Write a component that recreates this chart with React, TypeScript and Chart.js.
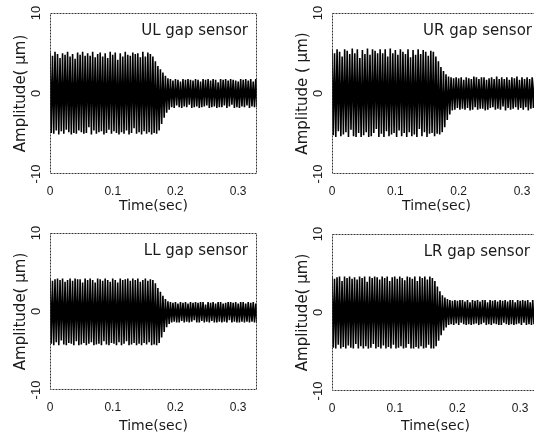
import React, { useEffect, useRef } from "react";
import { Chart, registerables } from "chart.js";

Chart.register(...registerables);

// ---------- data ----------
const TIME_STEP = 0.002; // sampling interval (s)
const X_MIN = 0;
const X_MAX = 0.33;
const Y_MIN = -10;
const Y_MAX = 10;
const X_TICKS = [0, 0.1, 0.2, 0.3];
const Y_TICKS = [-10, 0, 10];
const X_TITLE = "Time(sec)";

const PANEL_LABELS = ["UL gap sensor", "UR gap sensor", "LL gap sensor", "LR gap sensor"];
const Y_TITLES = ["Amplitude( μm)", "Amplitude ( μm)", "Amplitude( μm)", "Amplitude( μm)"];

const UL = [
  5.1, -4.9, 4.7, -5.0, 5.2, -4.6, 4.9, -5.1, 4.4, -4.7,
  5.0, -5.0, 4.8, -4.5, 5.2, -4.8, 4.6, -5.1, 4.9, -4.9,
  4.3, -5.0, 5.1, -4.6, 4.8, -4.8, 5.2, -5.0, 4.7, -4.9,
  5.0, -4.2, 4.7, -5.1, 5.2, -4.6, 4.5, -5.0, 4.9, -4.8,
  5.1, -4.7, 4.6, -5.1, 5.0, -4.9, 4.4, -4.5, 5.2, -5.0,
  4.8, -4.7, 5.1, -4.9, 4.2, -5.1, 5.0, -4.8, 4.6, -5.0,
  5.2, -4.6, 4.8, -5.1, 4.7, -4.9, 5.1, -4.3, 4.9, -5.0,
  5.0, -4.8, 4.5, -5.1, 5.2, -4.7, 4.6, -5.0, 5.1, -4.8,
  4.9, -5.1, 4.6, -4.9, 4.0, -5.0, 3.4, -4.6, 3.0, -3.8,
  2.6, -3.0, 2.2, -2.4, 1.9, -2.0, 1.8, -1.7, 1.6, -1.8,
  1.8, -1.5, 1.7, -1.7, 1.5, -1.8, 1.8, -1.6, 1.7, -1.7,
  1.8, -1.4, 1.7, -1.8, 1.6, -1.7, 1.8, -1.6, 1.7, -1.8,
  1.5, -1.7, 1.8, -1.6, 1.7, -1.5, 1.8, -1.8, 1.6, -1.7,
  1.8, -1.6, 1.7, -1.8, 1.4, -1.7, 1.8, -1.7, 1.7, -1.5,
  1.8, -1.8, 1.6, -1.6, 1.8, -1.4, 1.7, -1.8, 1.6, -1.7,
  1.5, -1.8, 1.8, -1.6, 1.7, -1.7, 1.8, -1.5, 1.6, -1.8,
  1.8, -1.6, 1.5, -1.7, 1.8, -1.7,
];

const UR = [
  5.4, -5.2, 5.0, -5.4, 5.5, -4.7, 5.2, -5.3, 4.6, -5.1,
  5.5, -4.8, 5.3, -5.4, 4.9, -4.5, 5.6, -5.3, 5.0, -5.4,
  5.5, -4.9, 4.4, -5.4, 5.4, -5.2, 4.9, -4.8, 5.6, -5.4,
  4.8, -5.3, 5.5, -4.9, 5.3, -4.4, 5.0, -5.4, 5.5, -5.0,
  5.0, -5.4, 5.5, -4.7, 4.6, -5.3, 5.6, -5.1, 5.0, -4.9,
  5.4, -5.4, 4.8, -4.6, 5.5, -5.3, 5.2, -4.9, 4.9, -5.4,
  5.5, -4.8, 4.5, -5.3, 5.4, -5.1, 4.8, -5.4, 5.5, -4.4,
  4.9, -5.3, 5.4, -4.8, 5.2, -5.4, 4.7, -5.0, 5.3, -4.9,
  5.2, -5.3, 4.6, -5.0, 4.0, -5.1, 3.3, -4.8, 2.8, -4.2,
  2.4, -3.3, 2.1, -2.6, 2.0, -2.1, 1.9, -2.0, 2.0, -1.8,
  1.9, -2.0, 2.0, -1.9, 1.7, -2.0, 2.0, -1.8, 1.9, -2.1,
  1.8, -2.0, 2.1, -1.7, 2.0, -2.0, 1.8, -1.9, 2.0, -1.9,
  2.0, -2.1, 1.7, -2.0, 1.9, -1.8, 2.0, -1.7, 1.8, -2.0,
  2.1, -1.9, 1.8, -2.0, 2.0, -1.6, 1.8, -2.1, 2.0, -1.8,
  1.7, -2.0, 2.0, -1.9, 1.9, -1.7, 2.1, -2.0, 1.7, -1.8,
  2.0, -2.0, 1.8, -1.7, 2.0, -2.1, 1.8, -1.9, 2.0, -1.8,
  1.9, -2.0, 1.7, -1.9, 2.0, -1.8,
];

const LL = [
  4.2, -4.1, 3.9, -4.3, 4.1, -3.9, 4.2, -4.3, 4.0, -3.7,
  4.2, -4.2, 3.8, -4.3, 4.0, -4.0, 4.2, -4.1, 3.9, -4.3,
  4.2, -3.8, 4.1, -4.3, 4.1, -4.2, 3.7, -4.0, 4.2, -4.3,
  4.0, -4.1, 4.2, -3.9, 4.0, -4.3, 3.7, -4.2, 4.2, -4.1,
  4.1, -4.3, 3.9, -3.8, 4.2, -4.2, 4.0, -4.3, 3.8, -4.0,
  4.2, -4.1, 4.0, -4.3, 3.7, -3.9, 4.2, -4.3, 4.0, -4.1,
  4.1, -3.8, 4.2, -4.3, 3.9, -4.2, 4.2, -4.0, 4.0, -4.3,
  4.2, -4.1, 3.8, -4.3, 4.0, -4.0, 4.2, -4.2, 3.9, -3.9,
  4.1, -4.3, 4.0, -4.2, 3.6, -4.3, 3.0, -4.0, 2.5, -3.3,
  2.0, -2.6, 1.6, -2.0, 1.3, -1.6, 1.2, -1.4, 1.1, -1.3,
  1.2, -1.4, 1.0, -1.4, 1.2, -1.2, 1.1, -1.4, 1.2, -1.3,
  1.0, -1.4, 1.2, -1.3, 1.1, -1.1, 1.2, -1.4, 1.1, -1.4,
  1.2, -1.2, 1.2, -1.4, 0.9, -1.3, 1.2, -1.4, 1.1, -1.2,
  1.2, -1.4, 1.0, -1.4, 1.2, -1.3, 1.2, -1.4, 1.0, -1.3,
  1.1, -1.4, 1.2, -1.1, 1.2, -1.4, 1.1, -1.3, 1.2, -1.4,
  1.0, -1.4, 1.2, -1.3, 1.2, -1.4, 1.0, -1.3, 1.2, -1.4,
  1.1, -1.3, 1.2, -1.4, 1.0, -1.4,
];

const LR = [
  4.6, -4.5, 4.3, -4.6, 4.5, -4.1, 4.6, -4.6, 4.0, -4.4,
  4.6, -4.6, 4.4, -4.2, 4.6, -4.5, 4.3, -4.6, 4.5, -4.0,
  4.2, -4.6, 4.6, -4.3, 4.4, -4.6, 4.6, -4.3, 3.9, -4.6,
  4.6, -4.5, 4.4, -4.0, 4.6, -4.6, 4.5, -4.4, 4.2, -4.6,
  4.6, -4.2, 4.4, -4.6, 4.6, -4.4, 4.0, -4.6, 4.5, -4.1,
  4.6, -4.6, 4.3, -4.5, 4.6, -4.3, 4.4, -4.6, 4.1, -4.5,
  4.6, -4.0, 4.5, -4.6, 4.3, -4.6, 4.6, -4.4, 4.0, -4.6,
  4.6, -4.3, 4.4, -4.6, 4.6, -4.5, 4.2, -4.1, 4.6, -4.6,
  4.4, -4.6, 4.0, -4.3, 3.3, -3.6, 2.7, -2.9, 2.2, -2.3,
  1.9, -1.9, 1.7, -1.6, 1.6, -1.5, 1.5, -1.6, 1.6, -1.4,
  1.5, -1.6, 1.6, -1.3, 1.6, -1.5, 1.4, -1.6, 1.6, -1.5,
  1.3, -1.6, 1.6, -1.5, 1.5, -1.4, 1.6, -1.6, 1.4, -1.5,
  1.6, -1.3, 1.6, -1.6, 1.3, -1.5, 1.6, -1.6, 1.5, -1.4,
  1.6, -1.5, 1.4, -1.6, 1.6, -1.6, 1.5, -1.3, 1.6, -1.5,
  1.4, -1.6, 1.6, -1.5, 1.6, -1.6, 1.3, -1.5, 1.6, -1.4,
  1.5, -1.6, 1.6, -1.3, 1.5, -1.6, 1.6, -1.5, 1.3, -1.6,
  1.6, -1.5, 1.6, -1.6, 1.4, -1.5,
];

const SERIES = [UL, UR, LL, LR];

// ---------- layout ----------
const PANELS = [
  { left: 0, top: 0, w: 262, h: 215, padTop: 13, padRight: 5, xH: 41 },
  { left: 282, top: 0, w: 262, h: 215, padTop: 13, padRight: 3, xH: 41 },
  { left: 0, top: 215, w: 262, h: 220, padTop: 18, padRight: 5, xH: 45 },
  { left: 282, top: 215, w: 262, h: 220, padTop: 19, padRight: 5, xH: 44 },
];

const FONT = "'DejaVu Sans', 'Liberation Sans', sans-serif";
const TICK_FONT = "'Liberation Sans', Arial, sans-serif";
const TEXT_COLOR = "#1a1a1a";

const framePlugin = {
  id: "frame",
  afterDraw(chart: any) {
    const { ctx, chartArea } = chart;
    ctx.save();
    ctx.strokeStyle = "#333";
    ctx.lineWidth = 1;
    ctx.setLineDash([2, 1]);
    ctx.strokeRect(
      Math.round(chartArea.left) + 0.5,
      Math.round(chartArea.top) + 0.5,
      Math.round(chartArea.right - chartArea.left) - 1,
      Math.round(chartArea.bottom - chartArea.top) - 1
    );
    ctx.restore();
  },
};

const labelPlugin = {
  id: "panelLabel",
  afterDraw(chart: any, _args: any, opts: any) {
    const { ctx, chartArea } = chart;
    ctx.save();
    ctx.fillStyle = TEXT_COLOR;
    ctx.font = `15px ${FONT}`;
    ctx.textAlign = "right";
    ctx.textBaseline = "middle";
    ctx.fillText(opts.text, chartArea.right - 9, chartArea.top + 18);
    ctx.restore();
  },
};

function Panel({ idx }: { idx: number }) {
  const ref = useRef<HTMLCanvasElement | null>(null);
  const p = PANELS[idx];
  useEffect(() => {
    if (!ref.current) return;
    const values = SERIES[idx];
    const chart = new Chart(ref.current, {
      type: "line",
      data: {
        datasets: [
          {
            data: values.map((v, i) => ({ x: i * TIME_STEP, y: v })),
            borderColor: "#000",
            borderWidth: 1.6,
            pointRadius: 0,
            tension: 0,
            fill: false,
          },
        ],
      },
      options: {
        responsive: false,
        animation: false,
        events: [],
        layout: { padding: { left: 0, top: p.padTop, right: p.padRight, bottom: 0 } },
        plugins: {
          legend: { display: false },
          tooltip: { enabled: false },
          panelLabel: { text: PANEL_LABELS[idx] },
        } as any,
        scales: {
          x: {
            type: "linear",
            min: X_MIN,
            max: X_MAX,
            afterBuildTicks: (s: any) => {
              s.ticks = X_TICKS.map((v) => ({ value: v }));
            },
            afterFit: (s: any) => {
              s.height = p.xH;
            },
            grid: { display: false, drawTicks: false },
            border: { display: false },
            ticks: {
              font: { family: TICK_FONT, size: 12 },
              color: TEXT_COLOR,
              padding: 10,
              maxRotation: 0,
              minRotation: 0,
              autoSkip: false,
              callback: (v: any) => String(v),
            },
            title: {
              display: true,
              text: X_TITLE,
              font: { family: FONT, size: 14 },
              color: TEXT_COLOR,
              padding: 0,
            },
          },
          y: {
            type: "linear",
            min: Y_MIN,
            max: Y_MAX,
            afterBuildTicks: (s: any) => {
              s.ticks = Y_TICKS.map((v) => ({ value: v }));
            },
            afterFit: (s: any) => {
              s.width = 50;
            },
            grid: { display: false, drawTicks: false },
            border: { display: false },
            ticks: {
              font: { family: TICK_FONT, size: 13 },
              color: TEXT_COLOR,
              minRotation: 90,
              maxRotation: 90,
              crossAlign: "center",
              padding: 4,
              autoSkip: false,
              callback: (v: any) => String(v),
            },
            title: {
              display: true,
              text: Y_TITLES[idx],
              font: { family: FONT, size: 15 },
              color: TEXT_COLOR,
              padding: 12,
            },
          },
        },
      } as any,
      plugins: [framePlugin, labelPlugin],
    });
    return () => chart.destroy();
  }, [idx]);
  return (
    <div style={{ position: "absolute", left: p.left, top: p.top, width: p.w, height: p.h }}>
      <canvas ref={ref} width={p.w} height={p.h} style={{ display: "block" }} />
    </div>
  );
}

export default function App() {
  return (
    <div
      style={{
        position: "absolute",
        left: 0,
        top: 0,
        width: 534,
        height: 435,
        overflow: "hidden",
        background: "#fff",
      }}
    >
      {PANELS.map((_, i) => (
        <Panel key={i} idx={i} />
      ))}
    </div>
  );
}
